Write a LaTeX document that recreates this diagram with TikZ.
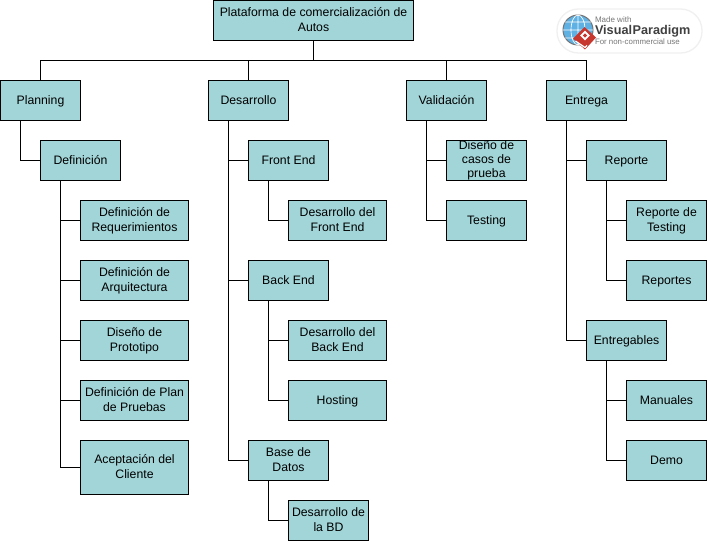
\documentclass[tikz,border=0pt]{standalone}
\usepackage{fontspec}
\setmainfont{Liberation Sans}
\newcommand{\linestrut}{\rule[-2.3pt]{0pt}{10.6pt}}
\tikzset{
  wbs/.style={draw=black,fill=boxfill,line width=0.75pt,anchor=north west,inner sep=0pt,outer sep=0pt,
    align=center,font=\fontsize{9.2}{11.25}\selectfont,text=black,minimum height=30pt},
  w60/.style={wbs,minimum width=60pt},
  w74/.style={wbs,minimum width=73.5pt},
  wire/.style={line width=0.75pt,black},
  logotext/.style={inner sep=0pt,outer sep=0pt,anchor=west}
}
\definecolor{boxfill}{HTML}{A2D5D8}
\definecolor{logogray}{HTML}{777777}
\definecolor{logoblue}{HTML}{5FB0E3}
\definecolor{logored}{HTML}{C8372D}
\begin{document}
\begin{tikzpicture}[x=0.75pt,y=-0.75pt]
	\useasboundingbox (0,0) rectangle (707,541);
	% top
	\node[wbs,minimum width=150pt] (root) at (213.5,0.5) {\linestrut Plataforma de comercialización de\\\linestrut Autos};
	\coordinate (bus) at (313.5,60.5);
	% logo
	\draw[black!6,fill=white,line width=1pt,rounded corners=16pt] (557,9) rectangle (702,53);
	\draw[black!55,fill=logoblue,line width=0.75pt] (578,30) circle (15);
	\draw[white,line width=0.5pt] (563,30) -- (593,30) (578,15) -- (578,45) (578,30) ellipse (7 and 15)
		(565,22) -- (591,22) (565,38) -- (591,38);
	\fill[logored] (584.5,27) -- (596,37.5) -- (585,49.5) -- (573,38.5) -- cycle;
	\draw[white,line width=0.9pt] (575.5,41) -- (585,47.5) -- (587,45.5);
	\fill[white,rotate around={45:(585,35.5)}] (581.5,32) rectangle (588.5,39);
	\fill[logored,rotate around={45:(585,35.5)}] (583.5,34) rectangle (586.5,37);
	\node[logotext,text=logogray,font=\fontsize{6}{6}\selectfont] (made) at (595,20) {Made with};
	\node[logotext,text=black!75,font=\bfseries\fontsize{9.5}{10}\selectfont] (vp) at (595,31) {Visual\hspace{0.4pt}Paradigm};
	\node[logotext,text=logogray,font=\fontsize{5.9}{6}\selectfont] (noncom) at (595,42) {For non-commercial use};
	% planning
	\node[w60] (planning) at (0.5,80.5) {\linestrut Planning};
	\node[w60] (definicion) at (40.5,140.5) {\linestrut Definición};
	\node[wbs,minimum width=81pt] (requerimientos) at (80.5,200.5) {\linestrut Definición de\\\linestrut Requerimientos};
	\node[wbs,minimum width=81pt] (arquitectura) at (80.5,260.5) {\linestrut Definición de\\\linestrut Arquitectura};
	\node[wbs,minimum width=81pt] (prototipo) at (80.5,320.5) {\linestrut Diseño de\\\linestrut Prototipo};
	\node[wbs,minimum width=81pt] (pruebas) at (80.5,380.5) {\linestrut Definición de Plan\\\linestrut de Pruebas};
	\node[wbs,minimum width=81pt,minimum height=40.5pt] (aceptacion) at (80.5,440.5) {\linestrut Aceptación del\\\linestrut Cliente};
	% desarrollo
	\node[w60] (desarrollo) at (208.5,80.5) {\linestrut Desarrollo};
	\node[w60] (frontend) at (248.5,140.5) {\linestrut Front End};
	\node[w74] (devfront) at (288.5,200.5) {\linestrut Desarrollo del\\\linestrut Front End};
	\node[w60] (backend) at (248.5,260.5) {\linestrut Back End};
	\node[w74] (devback) at (288.5,320.5) {\linestrut Desarrollo del\\\linestrut Back End};
	\node[w74] (hosting) at (288.5,380.5) {\linestrut Hosting};
	\node[w60] (basedatos) at (248.5,440.5) {\linestrut Base de\\\linestrut Datos};
	\node[w60] (devbd) at (288.5,500.5) {\linestrut Desarrollo de\\\linestrut la BD};
	% validacion
	\node[w60] (validacion) at (406.5,80.5) {\linestrut Validación};
	\node[w60,font=\fontsize{9.2}{10.5}\selectfont] (casos) at (446.5,140.5) {Diseño de\\casos de\\prueba};
	\node[w60] (testing) at (446.5,200.5) {\linestrut Testing};
	% entrega
	\node[w60] (entrega) at (546.5,80.5) {\linestrut Entrega};
	\node[w60] (reporte) at (586.5,140.5) {\linestrut Reporte};
	\node[w60] (reptesting) at (626.5,200.5) {\linestrut Reporte de\\\linestrut Testing};
	\node[w60] (reportes) at (626.5,260.5) {\linestrut Reportes};
	\node[w60] (entregables) at (586.5,320.5) {\linestrut Entregables};
	\node[w60] (manuales) at (626.5,380.5) {\linestrut Manuales};
	\node[w60] (demo) at (626.5,440.5) {\linestrut Demo};
	% connectors
	\draw[wire] (root.south) -- (bus);
	\foreach \child in {planning,desarrollo,validacion,entrega}
		\draw[wire] (bus) -| (\child.north);
	\foreach \parent/\kids in {planning/definicion,
		definicion/{requerimientos,arquitectura,prototipo,pruebas,aceptacion},
		desarrollo/{frontend,backend,basedatos},frontend/devfront,
		backend/{devback,hosting},basedatos/devbd,
		validacion/{casos,testing},entrega/{reporte,entregables},
		reporte/{reptesting,reportes},entregables/{manuales,demo}}
		\foreach \child in \kids
			\draw[wire] ([xshift=15pt]\parent.south west) |- (\child.west);
\end{tikzpicture}
\end{document}
